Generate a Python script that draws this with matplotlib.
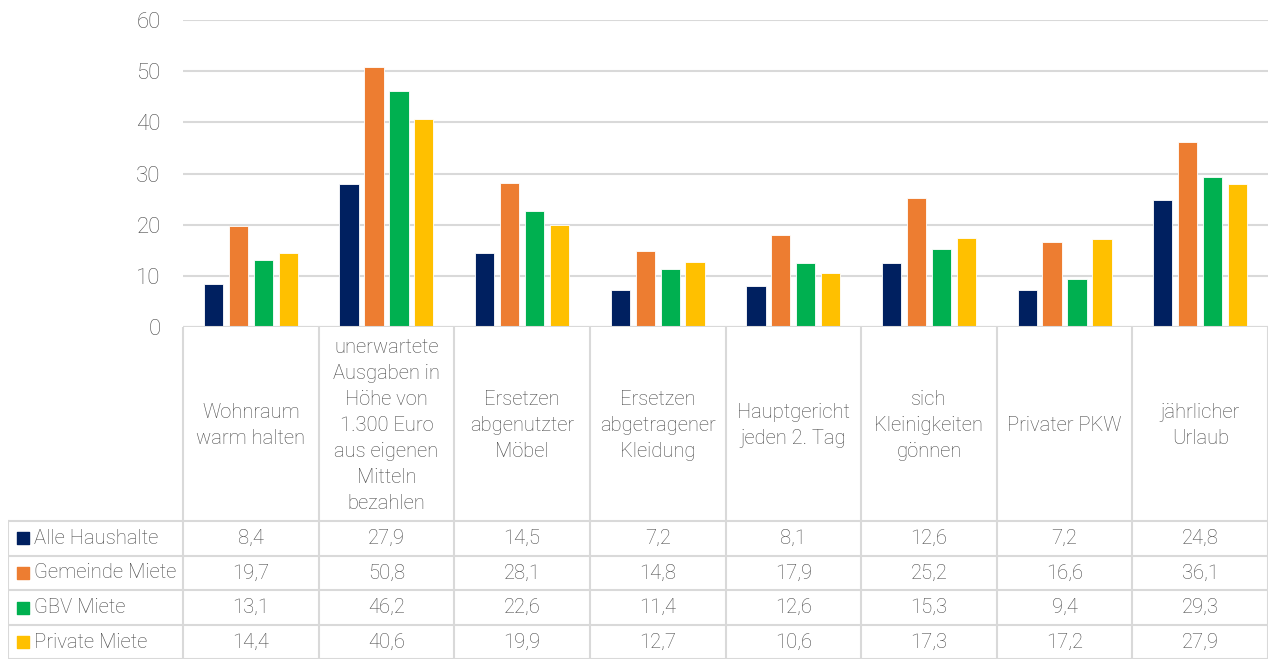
import matplotlib.pyplot as plt
import numpy as np

plt.rcParams["font.family"] = ["Roboto", "DejaVu Sans"]
plt.rcParams["font.weight"] = "light"

categories = ["Wohnraum\nwarm halten",
              "unerwartete\nAusgaben in\nHöhe von\n1.300 Euro\naus eigenen\nMitteln\nbezahlen",
              "Ersetzen\nabgenutzter\nMöbel",
              "Ersetzen\nabgetragener\nKleidung",
              "Hauptgericht\njeden 2. Tag",
              "sich\nKleinigkeiten\ngönnen",
              "Privater PKW",
              "jährlicher\nUrlaub"]
series_names = ["Alle Haushalte", "Gemeinde Miete", "GBV Miete", "Private Miete"]
alle      = [8.4, 27.9, 14.5, 7.2, 8.1, 12.6, 7.2, 24.8]
gemeinde  = [19.7, 50.8, 28.1, 14.8, 17.9, 25.2, 16.6, 36.1]
gbv       = [13.1, 46.2, 22.6, 11.4, 12.6, 15.3, 9.4, 29.3]
privat    = [14.4, 40.6, 19.9, 12.7, 10.6, 17.3, 17.2, 27.9]
series = [alle, gemeinde, gbv, privat]
colors = ["#002060", "#ED7D31", "#00B050", "#FFC000"]
yticks = [0, 10, 20, 30, 40, 50, 60]

text_color = "#4A4A4A"
grid_color = "#D9D9D9"

W, H = 1269, 659
fig = plt.figure(figsize=(W / 100, H / 100), dpi=100)

# main plot area (pixel layout)
px_left, px_right, px_top, px_zero = 183, 1268, 20, 327
ax = fig.add_axes([px_left / W, 1 - px_zero / H, (px_right - px_left) / W, (px_zero - px_top) / H])
n = len(categories)
x = np.arange(n)
bar_w = 0.142
step = 0.184
for i, (vals, c) in enumerate(zip(series, colors)):
    ax.bar(x + (i - 1.5) * step, vals, width=bar_w, color=c, edgecolor="white", linewidth=0.6, zorder=3)

ax.set_xlim(-0.5, n - 0.5)
ax.set_ylim(0, 60)
ax.set_yticks(yticks)
ax.set_yticklabels([str(t) for t in yticks], fontsize=16, color=text_color)
ax.tick_params(axis="y", length=0, pad=16)
ax.set_xticks([])
ax.grid(axis="y", color=grid_color, linewidth=1.5, zorder=0)
for s in ax.spines.values():
    s.set_visible(False)
ax.axhline(0, color=grid_color, linewidth=1.5, zorder=4)

# data table below
px_table_left = 8
row_h = 34.6
header_bottom = 521
cat_px = (px_right - px_left) / n
tab = fig.add_axes([px_table_left / W, 0, (px_right - px_table_left) / W, (H - px_zero) / H])
tab.set_xlim(-0.5 - (px_left - px_table_left) / cat_px, n - 0.5)
tab.set_ylim(H, px_zero)
tab.axis("off")
lw = 1.5
for b in np.arange(n + 1) - 0.5:
    tab.plot([b, b], [px_zero, H], color=grid_color, lw=lw)
x_lab_left = tab.get_xlim()[0]
tab.plot([x_lab_left, x_lab_left], [header_bottom, H], color=grid_color, lw=lw)
for r in range(len(series) + 1):
    y = header_bottom + r * row_h
    tab.plot([x_lab_left, n - 0.5], [y, y], color=grid_color, lw=lw)

for i, cat in enumerate(categories):
    tab.text(i, (px_zero + header_bottom) / 2 + 1.5, cat, ha="center", va="center",
             fontsize=14.5, color=text_color, linespacing=1.47)

key_x = x_lab_left + 10 / cat_px
for r, (name, vals, c) in enumerate(zip(series_names, series, colors)):
    yc = header_bottom + (r + 0.5) * row_h
    tab.scatter([key_x + 5 / cat_px], [yc], marker="s", s=70, color=c)
    tab.text(key_x + 16 / cat_px, yc, name, ha="left", va="center", fontsize=14.6, color=text_color)
    for i, v in enumerate(vals):
        tab.text(i, yc, f"{v:.1f}".replace(".", ","), ha="center", va="center",
                 fontsize=14.6, color=text_color)

plt.savefig("out.png", dpi=100)
